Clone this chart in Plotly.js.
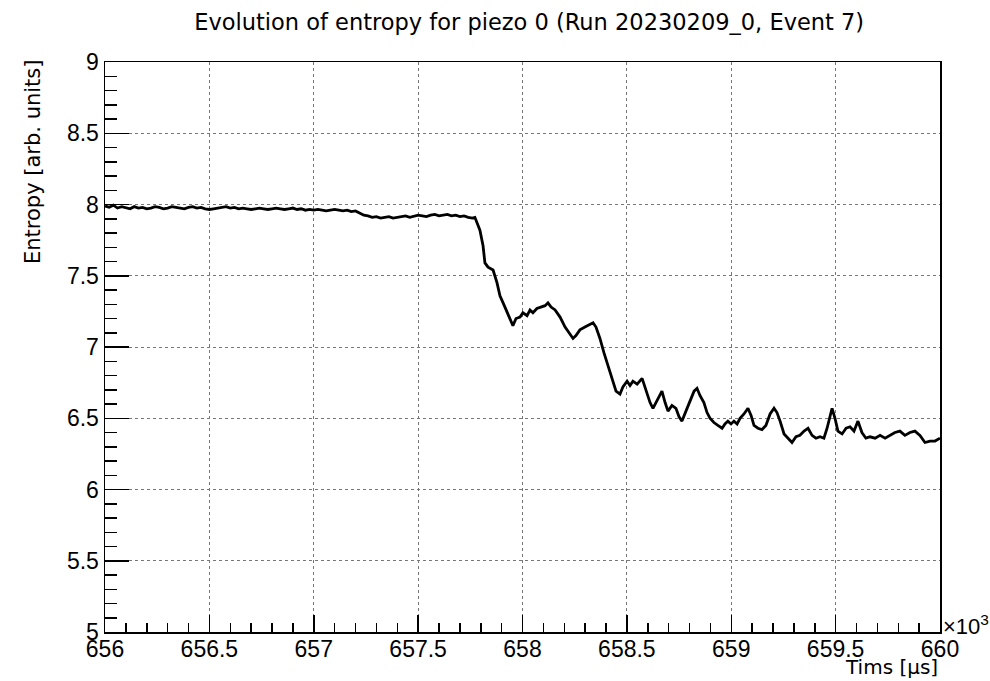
<!DOCTYPE html>
<html>
<head>
<meta charset="utf-8">
<script src="https://cdn.plot.ly/plotly-3.0.1.min.js"></script>
<style>html,body{margin:0;padding:0;background:#fff;}#chart{width:990px;height:681px;}</style>
</head>
<body>
<div id="chart"></div>
<script>
// Time in units of 10^3 µs
const timeK = [
656.00,656.02,656.04,656.06,656.08,656.10,656.12,656.14,656.16,656.18,
656.20,656.22,656.24,656.26,656.28,656.30,656.32,656.34,656.36,656.38,
656.40,656.42,656.44,656.46,656.48,656.50,656.52,656.54,656.56,656.58,
656.60,656.62,656.64,656.66,656.68,656.70,656.72,656.74,656.76,656.78,
656.80,656.82,656.84,656.86,656.88,656.90,656.92,656.94,656.96,656.98,
657.00,657.02,657.04,657.06,657.08,657.10,657.12,657.14,657.16,657.18,
657.20,657.22,657.24,657.26,657.28,657.30,657.32,657.34,657.36,657.38,
657.40,657.42,657.44,657.46,657.48,657.50,657.52,657.54,657.56,657.58,
657.60,657.62,657.64,657.66,657.68,657.70,657.72,657.74,657.76,
657.772,657.796,657.811,657.820,657.835,657.859,657.878,657.892,657.907,657.926,
657.940,657.954,657.969,657.988,658.002,658.022,658.036,658.050,658.069,658.089,
658.108,658.122,658.137,658.156,658.180,658.204,658.228,658.242,658.256,658.275,
658.299,658.323,658.338,658.352,658.371,658.390,658.410,658.429,658.448,658.467,
658.481,658.501,658.515,658.529,658.549,658.573,658.592,658.611,658.625,658.644,
658.668,658.683,658.697,658.716,658.735,658.750,658.764,658.783,658.802,658.822,
658.836,658.850,658.869,658.884,658.898,658.917,658.936,658.956,658.970,658.984,
658.999,659.013,659.028,659.042,659.061,659.080,659.095,659.109,659.128,659.147,
659.166,659.186,659.205,659.219,659.234,659.253,659.272,659.291,659.310,659.329,
659.349,659.368,659.387,659.406,659.425,659.444,659.459,659.473,659.483,659.497,
659.511,659.531,659.550,659.569,659.588,659.607,659.626,659.645,659.665,659.689,
659.713,659.737,659.761,659.784,659.808,659.832,659.856,659.880,659.904,659.928,
659.952,659.976,660.000
];
const entropy = [
7.990,7.980,7.995,7.975,7.985,7.980,7.970,7.985,7.975,7.980,
7.970,7.975,7.985,7.980,7.970,7.975,7.985,7.980,7.975,7.970,
7.980,7.985,7.975,7.980,7.970,7.965,7.970,7.975,7.980,7.985,
7.975,7.980,7.970,7.975,7.970,7.965,7.970,7.975,7.970,7.965,
7.970,7.975,7.970,7.965,7.970,7.975,7.965,7.970,7.960,7.965,
7.960,7.965,7.960,7.955,7.960,7.965,7.960,7.955,7.960,7.950,
7.955,7.940,7.925,7.920,7.910,7.915,7.905,7.910,7.915,7.905,
7.910,7.915,7.920,7.910,7.915,7.925,7.920,7.915,7.925,7.930,
7.920,7.925,7.930,7.920,7.925,7.915,7.920,7.910,7.905,
7.91,7.82,7.71,7.59,7.56,7.54,7.45,7.36,7.31,7.24,
7.19,7.15,7.20,7.21,7.24,7.22,7.26,7.24,7.27,7.28,
7.29,7.31,7.28,7.26,7.21,7.14,7.09,7.06,7.08,7.12,
7.14,7.16,7.17,7.14,7.06,6.96,6.87,6.78,6.69,6.67,
6.72,6.76,6.73,6.76,6.74,6.78,6.69,6.61,6.57,6.62,
6.69,6.61,6.55,6.59,6.57,6.51,6.48,6.55,6.62,6.69,
6.71,6.66,6.61,6.54,6.50,6.47,6.45,6.43,6.46,6.48,
6.46,6.48,6.46,6.50,6.53,6.57,6.52,6.45,6.43,6.42,
6.45,6.53,6.57,6.54,6.48,6.39,6.36,6.33,6.37,6.38,
6.41,6.43,6.38,6.36,6.37,6.36,6.43,6.51,6.57,6.50,
6.41,6.39,6.43,6.44,6.41,6.48,6.40,6.36,6.37,6.36,
6.38,6.36,6.38,6.40,6.41,6.38,6.40,6.41,6.38,6.33,
6.34,6.34,6.36
];

const titleText = 'Evolution of entropy for piezo 0 (Run 20230209_0, Event 7)';
const xTitle = 'Tims [µs]';
const yTitle = 'Entropy [arb. units]';
const xExponent = '×10<sup>3</sup>';

const WIDE = 'DejaVu Sans, Liberation Sans, Arial, sans-serif';
const HELV = 'Liberation Sans, Arial, Helvetica, sans-serif';

const trace = {
  x: timeK, y: entropy, type: 'scatter', mode: 'lines',
  line: {color: '#000000', width: 2.8},
  hoverinfo: 'skip'
};

const axisCommon = {
  showline: true, linecolor: '#000', linewidth: 1.5, mirror: true,
  zeroline: false,
  showgrid: true, gridcolor: '#777', griddash: 'dot', gridwidth: 1,
  ticks: 'inside', tickcolor: '#000', tickwidth: 1.5,
  tickfont: {family: HELV, size: 23, color: '#000'}
};

const layout = {
  width: 990, height: 681,
  paper_bgcolor: '#fff', plot_bgcolor: '#fff',
  margin: {l: 105, r: 50, t: 62, b: 49},
  showlegend: false,
  font: {family: HELV, color: '#000'},
  title: {text: titleText, font: {family: WIDE, size: 22.5, color: '#000'},
          x: 0.508, xanchor: 'center', xref: 'paper', y: 0.967, yanchor: 'middle'},
  xaxis: Object.assign({}, axisCommon, {
    range: [656, 660], tick0: 656, dtick: 0.5, ticklen: 17,
    ticklabelstandoff: -4,
    minor: {dtick: 0.1, ticks: 'inside', ticklen: 9, tickcolor: '#000', tickwidth: 1.5, showgrid: false}
  }),
  yaxis: Object.assign({}, axisCommon, {
    range: [5, 9], tick0: 5, dtick: 0.5, ticklen: 24,
    minor: {dtick: 0.1, ticks: 'inside', ticklen: 12, tickcolor: '#000', tickwidth: 1.5, showgrid: false}
  }),
  annotations: [
    {text: yTitle, xref: 'paper', yref: 'paper', x: -0.0862, y: 0.8246,
     xanchor: 'center', yanchor: 'middle', textangle: -90, showarrow: false,
     font: {family: WIDE, size: 21, color: '#000'}},
    {text: xTitle, xref: 'paper', yref: 'paper', x: 1, y: -0.061,
     xanchor: 'right', yanchor: 'middle', showarrow: false,
     font: {family: WIDE, size: 20, color: '#000'}},
    {text: xExponent, xref: 'paper', yref: 'paper', x: 1.001, y: 0.013,
     xanchor: 'left', yanchor: 'middle', showarrow: false,
     font: {family: HELV, size: 22, color: '#000'}}
  ]
};

Plotly.newPlot('chart', [trace], layout, {displayModeBar: false, staticPlot: true});
</script>
</body>
</html>
